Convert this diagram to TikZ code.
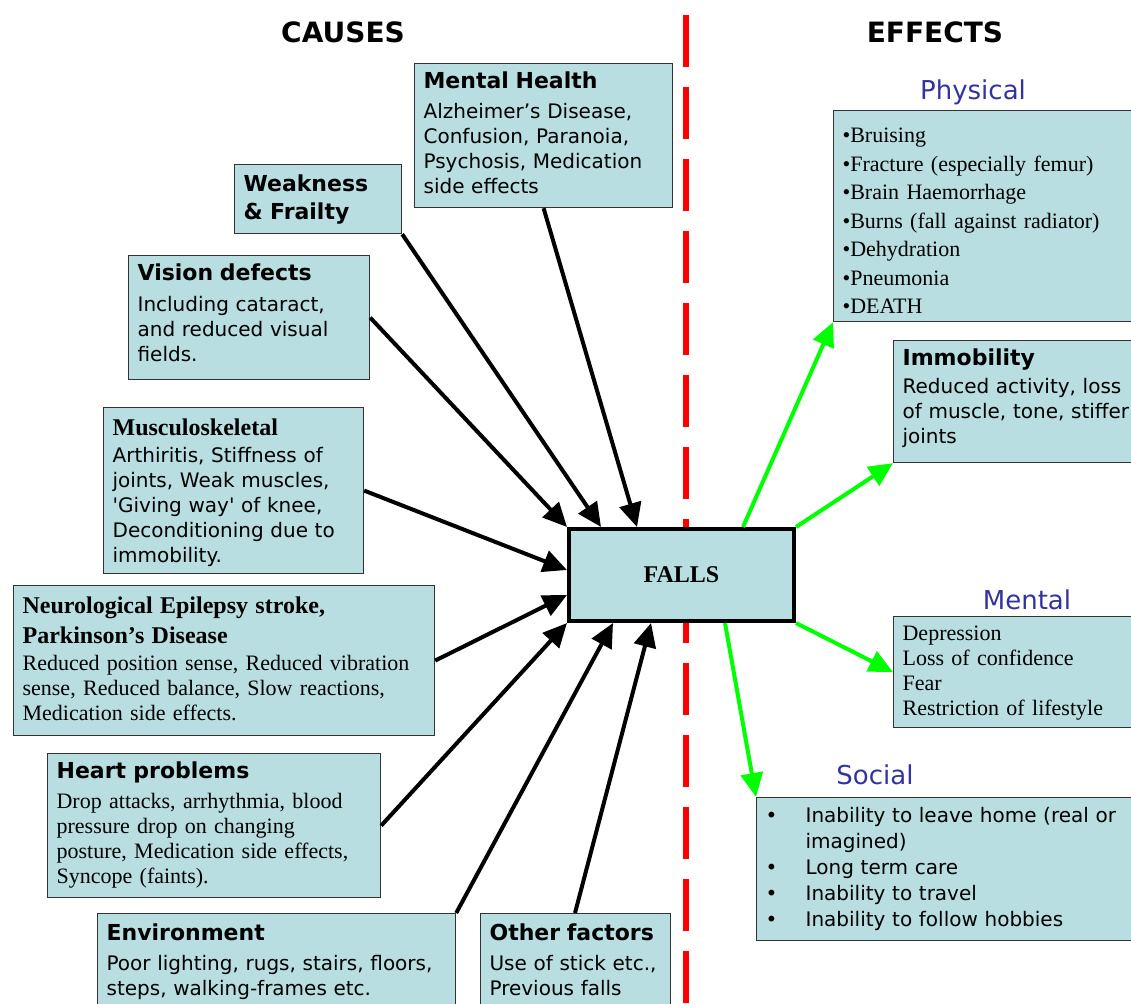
\documentclass[tikz,border=0pt]{standalone}
\usepackage{fontspec}
\setmainfont{Liberation Serif}
\setsansfont{DejaVu Sans}
\usetikzlibrary{arrows.meta}
\definecolor{boxfill}{RGB}{185,222,226}
\definecolor{effblue}{RGB}{51,51,160}
\definecolor{arrgreen}{RGB}{0,255,0}
\newcommand{\sanshead}{\fontsize{22}{28}\selectfont\sffamily\bfseries}
\newcommand{\serifhead}{\fontsize{24}{30}\selectfont\rmfamily\bfseries}
\newcommand{\sanstext}{\fontsize{20}{25}\selectfont\sffamily}
\newcommand{\seriftext}{\fontsize{22}{25}\selectfont\rmfamily}
\newcommand{\socbul}{\makebox[40pt][l]{\textbullet}}
\begin{document}
\begin{tikzpicture}[x=1pt, y=-1pt,
    infobox/.style={draw=black!80, line width=1.2pt, fill=boxfill, anchor=north west,
        align=left, inner xsep=9pt, inner ysep=0pt},
    fallsbox/.style={draw, line width=4pt, fill=boxfill, minimum width=225pt, minimum height=92pt},
    cause arrow/.style={line width=4pt, -{Triangle[length=24pt,width=22pt]}},
    effect arrow/.style={arrgreen, line width=4pt, -{Triangle[length=24pt,width=22pt]}},
    side head/.style={font=\fontsize{28}{32}\selectfont\sffamily\bfseries},
    effect head/.style={text=effblue, font=\fontsize{26}{30}\selectfont\sffamily} ]
    \useasboundingbox (0,0) rectangle (1131,1003);
    \coordinate (divtop) at (686,15);
    \coordinate (divbot) at (686,1003);
    \draw [red, line width=6pt, dash pattern=on 52pt off 20pt] (divtop) -- (divbot);
    \node at (343,32) [side head] (causes) {CAUSES};
    \node at (935,32) [side head] (effects) {EFFECTS};
    % causes
    \node at (414,63) [infobox, text width=240pt, text height=25pt, text depth=119pt, font=\sanstext] (mental)
      {{\sanshead Mental Health}\\[5pt]Alzheimer's Disease,\\Confusion, Paranoia,\\Psychosis, Medication\\side effects};
    \node at (234,164) [infobox, text width=149pt, text height=27pt, text depth=42pt, font=\sanshead] (weak)
      {Weakness\\\& Frailty};
    \node at (128,255) [infobox, text width=223pt, text height=25pt, text depth=99pt, font=\sanstext] (vision)
      {{\sanshead Vision defects}\\[6pt]Including cataract,\\and reduced visual\\fields.};
    \node at (103,407) [infobox, text width=242pt, text height=28pt, text depth=138pt, font=\sanstext] (musc)
      {{\serifhead Musculoskeletal}\\[2pt]Arthiritis, Stiffness of\\joints, Weak muscles,\\\textquotesingle Giving way\textquotesingle{} of knee,\\Deconditioning due to\\immobility.};
    \node at (13,585) [infobox, text width=403pt, text height=28pt, text depth=122pt, font=\seriftext] (neuro)
      {{\serifhead Neurological Epilepsy stroke,}\\[5pt]{\serifhead Parkinson’s Disease}\\[2pt]Reduced position sense, Reduced vibration\\sense, Reduced balance, Slow reactions,\\Medication side effects.};
    \node at (47,753) [infobox, text width=315pt, text height=25pt, text depth=119pt, font=\seriftext] (heart)
      {{\sanshead Heart problems}\\[5pt]Drop attacks, arrhythmia, blood\\pressure drop on changing\\posture, Medication side effects,\\Syncope (faints).};
    \node at (97,913) [infobox, text width=340pt, text height=27pt, text depth=100pt, font=\sanstext] (env)
      {{\sanshead Environment}\\[5pt]Poor lighting, rugs, stairs, floors,\\steps, walking-frames etc.};
    \node at (480,913) [infobox, text width=172pt, text height=27pt, text depth=100pt, font=\sanstext] (other)
      {\mbox{\sanshead Other factors}\\[5pt]\mbox{Use of stick etc.,}\\Previous falls};
    \node at (681.5,575) [fallsbox, font=\fontsize{24}{28}\selectfont\rmfamily\bfseries] (falls) {FALLS};
    % effects
    \node at (973,92) [effect head] (phys head) {Physical};
    \node at (833,110) [infobox, text width=302pt, text height=32pt, text depth=179pt, font=\fontsize{22}{28.5}\selectfont\rmfamily] (phys)
      {•Bruising\\•Fracture (especially femur)\\•Brain Haemorrhage\\•Burns (fall against radiator)\\•Dehydration\\•Pneumonia\\•DEATH};
    \node at (893,340) [infobox, text width=242pt, text height=25pt, text depth=97pt, font=\sanstext] (immob)
      {{\sanshead Immobility}\\[3pt]Reduced activity, loss\\of muscle, tone, stiffer\\joints};
    \node at (1027,600) [effect head] (ment head) {Mental};
    \node at (893,616) [infobox, text width=242pt, text height=24pt, text depth=87pt, font=\seriftext] (menteff)
      {Depression\\Loss of confidence\\Fear\\Restriction of lifestyle};
    \node at (875,775) [effect head] (soc head) {Social};
    \node at (756,797) [infobox, text width=382pt, text height=25pt, text depth=118pt, font=\fontsize{20}{26}\selectfont\sffamily] (social)
      {\socbul Inability to leave home (real or\\\hspace*{40pt}imagined)\\\socbul Long term care\\\socbul Inability to travel\\\socbul Inability to follow hobbies};
    % arrows into falls
    \draw [cause arrow] (mental.south) to ([xshift=70pt]falls.north west);
    \draw [cause arrow] (weak.south east) to ([xshift=34pt]falls.north west);
    \draw [cause arrow] (vision.east) to (falls.north west);
    \draw [cause arrow] (musc.east) to ([yshift=5pt]falls.west);
    \draw [cause arrow] (neuro.east) to ([yshift=-20pt]falls.west);
    \draw [cause arrow] (heart.east) to (falls.south west);
    \draw [cause arrow] (env.north east) to ([xshift=46pt]falls.south west);
    \draw [cause arrow] ([xshift=95pt]other.north west) to ([xshift=84pt]falls.south west);
    % arrows out of falls
    \draw [effect arrow] ([xshift=176pt]falls.north west) to (phys.south west);
    \draw [effect arrow] (falls.north east) to (immob.south west);
    \draw [effect arrow] (falls.south east) to (menteff.west);
    \draw [effect arrow] ([xshift=158pt]falls.south west) to (social.north west);
\end{tikzpicture}
\end{document}
